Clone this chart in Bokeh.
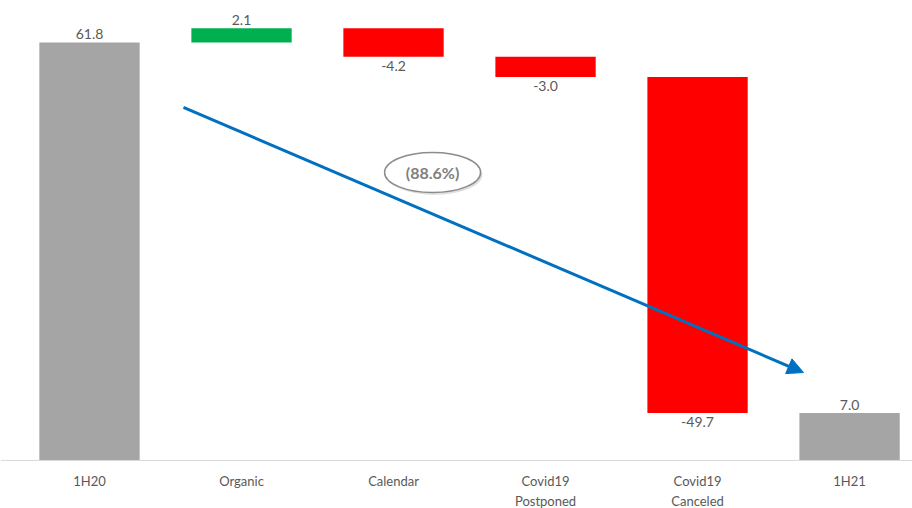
from bokeh.plotting import figure
from bokeh.models import Range1d, Span, Arrow, NormalHead, ColumnDataSource
from bokeh.core.properties import value
from bokeh.embed import file_html
from bokeh.resources import INLINE

# ---- data ----
categories = ["1H20", "Organic", "Calendar", "Covid19\nPostponed", "Covid19\nCanceled", "1H21"]
values = [61.8, 2.1, -4.2, -3.0, -49.7, 7.0]
kinds = ["total", "delta", "delta", "delta", "delta", "total"]
value_labels = ["61.8", "2.1", "-4.2", "-3.0", "-49.7", "7.0"]
change_label = "(88.6%)"

GRAY, GREEN, RED = "#A5A5A5", "#00B050", "#FF0000"
FONT = "Lato"

# ---- waterfall geometry from data ----
xs = list(range(len(categories)))
bottoms, tops, colors = [], [], []
running = 0.0
for v, k in zip(values, kinds):
    if k == "total":
        bottoms.append(0.0); tops.append(v); colors.append(GRAY)
        running = v
    else:
        start = running
        running = running + v
        bottoms.append(min(start, running)); tops.append(max(start, running))
        colors.append(GREEN if v >= 0 else RED)

src = ColumnDataSource(dict(x=xs, bottom=bottoms, top=tops, color=colors))

p = figure(width=912, height=508, output_backend="svg", toolbar_location=None,
           x_range=Range1d(-0.5855, 5.414), y_range=Range1d(-7.10, 68.0),
           min_border=0, min_border_left=0, min_border_right=0,
           min_border_top=0, min_border_bottom=0)
p.outline_line_color = None
p.xaxis.visible = False
p.yaxis.visible = False
p.xgrid.visible = False
p.ygrid.visible = False
p.background_fill_color = "white"
p.border_fill_color = "white"

p.vbar(x="x", bottom="bottom", top="top", width=0.66, color="color", source=src, line_color=None)

# baseline
p.add_layout(Span(location=0, dimension="width", line_color="#D9D9D9", line_width=1))

# value labels: positive above the bar top, negative below the bar bottom
up_x, up_y, up_t, dn_x, dn_y, dn_t = [], [], [], [], [], []
for x, v, k, b, t, lab in zip(xs, values, kinds, bottoms, tops, value_labels):
    if v >= 0:
        up_x.append(x); up_y.append(t); up_t.append(lab)
    else:
        dn_x.append(x); dn_y.append(b); dn_t.append(lab)
p.text(x=up_x, y=up_y, text=up_t, text_align="center", text_baseline="bottom",
       y_offset=-3, text_font=value(FONT), text_font_size="14px", text_color="#595959")
p.text(x=dn_x, y=dn_y, text=dn_t, text_align="center", text_baseline="top",
       y_offset=4, text_font=value(FONT), text_font_size="14px", text_color="#595959")

# category labels
p.text(x=xs, y=[0] * len(xs), text=categories, text_align="center", text_baseline="top",
       y_offset=13, text_font=value(FONT), text_font_size="13px", text_color="#595959",
       text_line_height=1.2)

# arrow
arrow_start = (0.618, 52.2)
arrow_end = (4.697, 13.0)
p.add_layout(Arrow(end=NormalHead(size=16, fill_color="#0070C0", line_color="#0070C0"),
                   x_start=arrow_start[0], y_start=arrow_start[1],
                   x_end=arrow_end[0], y_end=arrow_end[1],
                   line_color="#0070C0", line_width=3))

# ellipse callout
ell = (2.257, 42.58)
p.ellipse(x=[ell[0] + 0.012], y=[ell[1] - 0.35], width=96, height=40,
          width_units="screen", height_units="screen",
          fill_color="#BFBFBF", fill_alpha=0.5, line_color=None)
p.ellipse(x=[ell[0]], y=[ell[1]], width=96, height=40,
          width_units="screen", height_units="screen",
          fill_color="white", line_color="#8C8C8C", line_width=1.5)
p.text(x=[ell[0]], y=[ell[1]], text=[change_label], text_align="center", text_baseline="middle",
       text_font=value(FONT), text_font_size="16px", text_font_style="bold", text_color="#7F7F7F")

open("out.html", "w").write(file_html(p, INLINE))
